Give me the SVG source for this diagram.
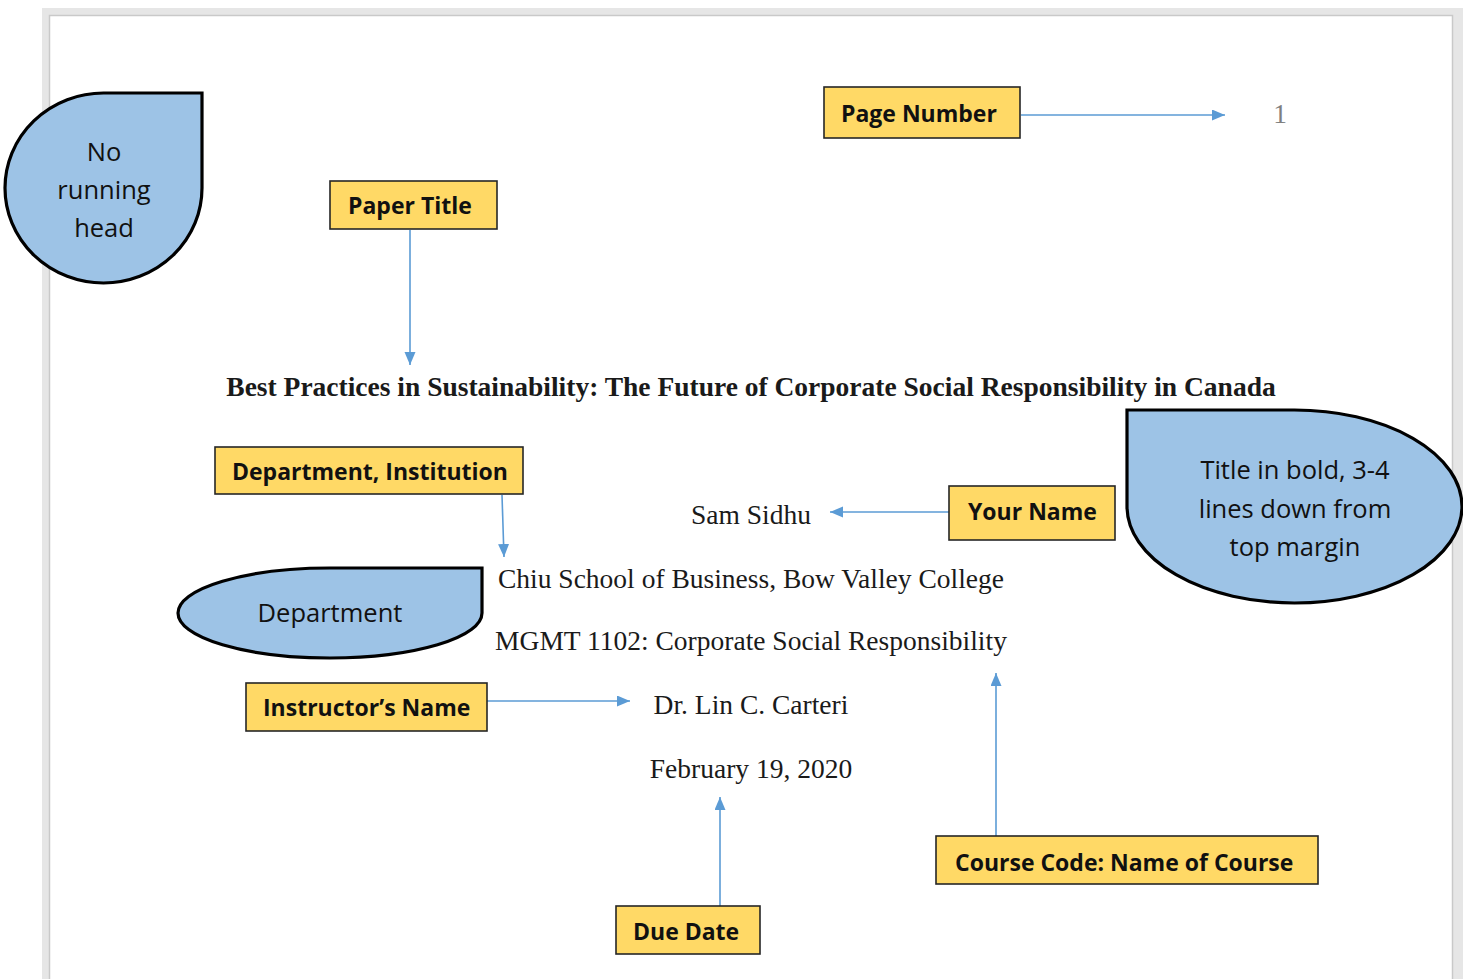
<svg xmlns="http://www.w3.org/2000/svg" width="1463" height="979" viewBox="0 0 1463 979">
<style>
.label rect{fill:#ffd966;stroke:#262626;stroke-width:1.6}
.label text{font-family:"Open Sans","Noto Sans",sans-serif;font-weight:700;font-size:23px;fill:#111}
.note path{fill:#9dc3e6;stroke:#000;stroke-width:3.2}
.note text{font-family:"Open Sans","Noto Sans",sans-serif;font-size:25.5px;fill:#111;text-anchor:middle}
.body{font-family:"Liberation Serif","Times New Roman",serif;font-size:27.5px;fill:#1a1a1a;text-anchor:middle}
.conn line{stroke:#5b9bd5;stroke-width:1.6;fill:none;marker-end:url(#ah)}
</style>
<defs>
<marker id="ah" markerUnits="userSpaceOnUse" markerWidth="14" markerHeight="12" refX="13" refY="5.5" orient="auto" viewBox="0 0 14 12">
<path d="M0,0 L13,5.5 L0,11 Z" fill="#5b9bd5"/>
</marker>
</defs>
<rect x="42" y="8" width="1421" height="971" fill="#e6e6e6"/>
<rect x="49.5" y="15.5" width="1403" height="975" fill="#ffffff" stroke="#c9c9c9" stroke-width="1.5"/>

<g id="page-text">
<text class="body" x="1280" y="123" style="fill:#7f7f7f">1</text>
<text class="body" x="751" y="396" font-weight="700">Best Practices in Sustainability: The Future of Corporate Social Responsibility in Canada</text>
<text class="body" x="751" y="524">Sam Sidhu</text>
<text class="body" x="751" y="588">Chiu School of Business, Bow Valley College</text>
<text class="body" x="751" y="650">MGMT 1102: Corporate Social Responsibility</text>
<text class="body" x="751" y="714">Dr. Lin C. Carteri</text>
<text class="body" x="751" y="778">February 19, 2020</text>
</g>

<g id="connectors" class="conn">
<line x1="1021" y1="115" x2="1225" y2="115"/>
<line x1="410" y1="230" x2="410" y2="365"/>
<line x1="502" y1="495" x2="504" y2="557"/>
<line x1="949" y1="512" x2="830" y2="512"/>
<line x1="487" y1="701" x2="630" y2="701"/>
<line x1="720" y1="906" x2="720" y2="797"/>
<line x1="996" y1="836" x2="996" y2="673"/>
</g>

<g id="no-running-head" class="note">
<path d="M103.5,93 L202,93 L202,188 A98.5,95 0 1 1 103.5,93 Z"/>
<text x="104" y="161">No</text>
<text x="104" y="199">running</text>
<text x="104" y="237">head</text>
</g>

<g id="title-note" class="note">
<path d="M1127,410 L1294.5,410 A167.5,96.5 0 1 1 1127,506.5 Z"/>
<text x="1295" y="479">Title in bold, 3-4</text>
<text x="1295" y="518">lines down from</text>
<text x="1295" y="556">top margin</text>
</g>

<g id="department-note" class="note">
<path d="M330,568 L482,568 L482,613 A152,45 0 1 1 330,568 Z"/>
<text x="330" y="622">Department</text>
</g>

<g id="page-number" class="label">
<rect x="824" y="87" width="196" height="51"/>
<text x="841" y="122">Page Number</text>
</g>

<g id="paper-title" class="label">
<rect x="330" y="181" width="167" height="48"/>
<text x="348" y="214">Paper Title</text>
</g>

<g id="department-institution" class="label">
<rect x="215" y="447" width="308" height="47"/>
<text x="232" y="480">Department, Institution</text>
</g>

<g id="your-name" class="label">
<rect x="949" y="486" width="166" height="54"/>
<text x="968" y="520">Your Name</text>
</g>

<g id="instructors-name" class="label">
<rect x="246" y="683" width="241" height="48"/>
<text x="263" y="716">Instructor’s Name</text>
</g>

<g id="course-code" class="label">
<rect x="936" y="836" width="382" height="48"/>
<text x="955" y="871">Course Code: Name of Course</text>
</g>

<g id="due-date" class="label">
<rect x="616" y="906" width="144" height="48"/>
<text x="633" y="940">Due Date</text>
</g>
</svg>
